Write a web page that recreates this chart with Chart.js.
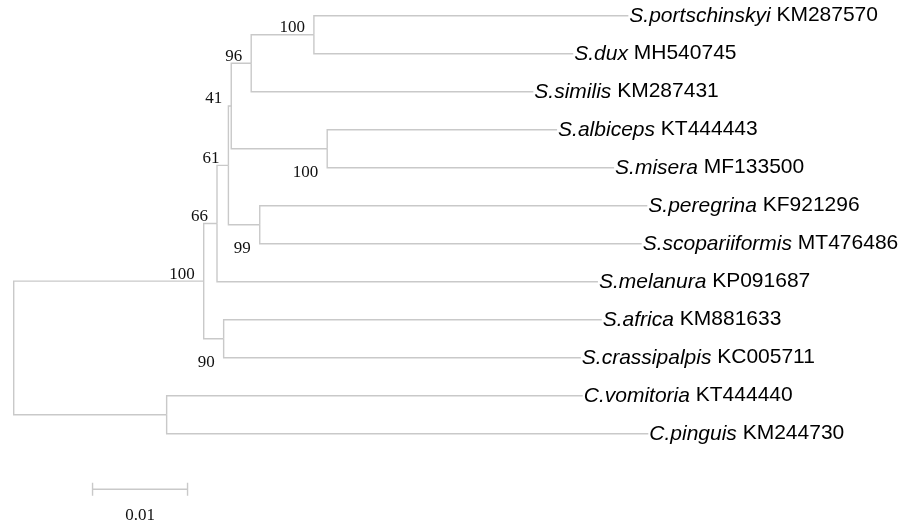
<!DOCTYPE html>
<html>
<head>
<meta charset="utf-8">
<title>Phylogenetic tree</title>
<script src="https://cdn.jsdelivr.net/npm/chart.js@4"></script>
<style>
  html, body { margin: 0; padding: 0; background: #fff; }
  #tree { display: block; }
</style>
</head>
<body>
<canvas id="tree" width="904" height="523"></canvas>
<script>
// --- Data (branch lengths, distance from root) ---
const tipSpecies = ['S.portschinskyi', 'S.dux', 'S.similis', 'S.albiceps', 'S.misera', 'S.peregrina',
  'S.scopariiformis', 'S.melanura', 'S.africa', 'S.crassipalpis', 'C.vomitoria', 'C.pinguis'];
const tipAccessions = ['KM287570', 'MH540745', 'KM287431', 'KT444443', 'MF133500', 'KF921296',
  'MT476486', 'KP091687', 'KM881633', 'KC005711', 'KT444440', 'KM244730'];
const tipDepths = [0.0647, 0.0589, 0.0547, 0.0572, 0.0632, 0.0667,
  0.0661, 0.0615, 0.0619, 0.0597, 0.0599, 0.0668];
const tipParents = ['A', 'A', 'B', 'D', 'D', 'F', 'F', 'G', 'H', 'H', 'J', 'J'];

const nodeNames   = ['root', 'I', 'J', 'G', 'H', 'E', 'F', 'C', 'D', 'B', 'A'];
const nodeParents = [null, 'root', 'root', 'I', 'I', 'G', 'E', 'E', 'C', 'C', 'B'];
const nodeDepths  = [0, 0.0200, 0.0161, 0.0214, 0.0221, 0.0226, 0.0259, 0.0229, 0.0330, 0.0250, 0.0316];
const nodeSupport = [null, 100, null, 66, 90, 61, 99, 41, 100, 96, 100];
const supportSide = [null, 'above', null, 'above', 'below', 'above', 'below', 'above', 'below', 'above', 'above'];

const scaleBarLength = 0.01;
const scaleBarStart = 0.0083;
const scaleBarRow = 12.46;
const scaleBarLabel = '0.01';

// --- Tree layout ---
const LINE = '#c9c9c9';

const pos = {};     // key -> {x, y}
const parent = {};  // key -> parent key
tipSpecies.forEach((s, i) => {
  pos['t' + i] = { x: tipDepths[i], y: i };
  parent['t' + i] = tipParents[i];
});
nodeNames.forEach((n, i) => { parent[n] = nodeParents[i]; });

function placeNode(name) {
  if (pos[name]) return pos[name].y;
  const ys = Object.keys(parent).filter(k => parent[k] === name).map(placeNode);
  const y = (Math.min(...ys) + Math.max(...ys)) / 2;
  pos[name] = { x: nodeDepths[nodeNames.indexOf(name)], y };
  return y;
}
placeNode('root');

// one elbow per branch: parent -> down/up to child row -> across to child
const branchDatasets = [];
Object.keys(pos).forEach(key => {
  if (!parent[key]) return;
  const p = pos[parent[key]], c = pos[key];
  branchDatasets.push({
    data: [{ x: p.x, y: p.y }, { x: p.x, y: c.y }, { x: c.x, y: c.y }],
  });
});

// scale bar
const tick = 0.17;
const barEnd = scaleBarStart + scaleBarLength;
branchDatasets.push({
  data: [
    { x: scaleBarStart, y: scaleBarRow - tick }, { x: scaleBarStart, y: scaleBarRow + tick },
    { x: scaleBarStart, y: scaleBarRow }, { x: barEnd, y: scaleBarRow },
    { x: barEnd, y: scaleBarRow - tick }, { x: barEnd, y: scaleBarRow + tick },
  ],
});

branchDatasets.forEach(ds => {
  ds.showLine = true;
  ds.borderColor = LINE;
  ds.borderWidth = 1.4;
  ds.pointRadius = 0;
  ds.tension = 0;
  ds.fill = false;
});

// --- Text plugin: tip names, bootstrap values, scale label ---
const treeLabels = {
  id: 'treeLabels',
  afterDatasetsDraw(chart) {
    const { ctx, scales: { x, y } } = chart;
    ctx.save();
    ctx.textBaseline = 'middle';

    // tip labels
    tipSpecies.forEach((name, i) => {
      let px = x.getPixelForValue(tipDepths[i]) + 1;
      const py = y.getPixelForValue(i);
      ctx.fillStyle = '#000';
      ctx.textAlign = 'left';
      ctx.font = 'italic 21px "Liberation Sans", Arial, sans-serif';
      ctx.fillText(name, px, py);
      px += ctx.measureText(name + ' ').width;
      ctx.font = '21px "Liberation Sans", Arial, sans-serif';
      ctx.fillText(tipAccessions[i], px, py);
    });

    // bootstrap support
    ctx.font = '17px "Liberation Serif", "Times New Roman", serif';
    ctx.fillStyle = '#111';
    ctx.textAlign = 'right';
    nodeNames.forEach((n, i) => {
      if (nodeSupport[i] == null) return;
      const px = x.getPixelForValue(pos[n].x) - 9;
      const py = y.getPixelForValue(pos[n].y) + (supportSide[i] === 'above' ? -7 : 23.5);
      ctx.fillText(String(nodeSupport[i]), px, py);
    });

    // scale bar label
    ctx.textAlign = 'center';
    ctx.fillText(scaleBarLabel, x.getPixelForValue(scaleBarStart + scaleBarLength / 2), y.getPixelForValue(scaleBarRow) + 26);
    ctx.restore();
  }
};

new Chart(document.getElementById('tree'), {
  type: 'scatter',
  data: { datasets: branchDatasets },
  options: {
    responsive: false,
    animation: false,
    layout: { padding: 0 },
    plugins: { legend: { display: false }, tooltip: { enabled: false } },
    scales: {
      x: { type: 'linear', display: false, min: -13.7 / 9500, max: (904 - 13.7) / 9500 },
      y: { type: 'linear', display: false, reverse: true, min: -15.7 / 38, max: (523 - 15.7) / 38 },
    },
  },
  plugins: [treeLabels],
});
</script>
</body>
</html>
